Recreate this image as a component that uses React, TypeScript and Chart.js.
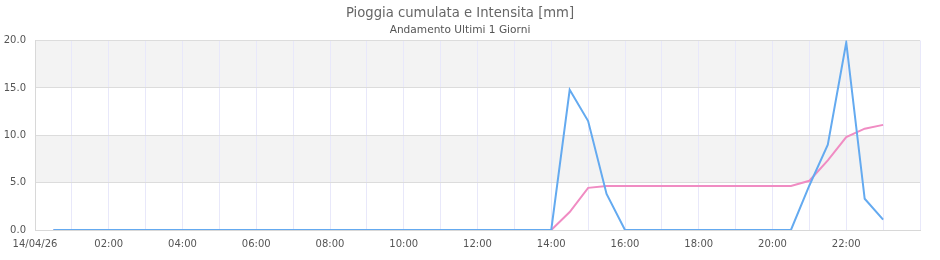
import React, { useEffect, useRef } from "react";
import { Chart, registerables } from "chart.js";

Chart.register(...registerables);

const TITLE = "Pioggia cumulata e Intensita [mm]";
const SUBTITLE = "Andamento Ultimi 1 Giorni";
const DATE_LABEL = "14/04/26";

// hours since 14/04/26 00:00
const hours = [
  0.5, 1, 1.5, 2, 2.5, 3, 3.5, 4, 4.5, 5, 5.5, 6, 6.5, 7, 7.5, 8, 8.5, 9, 9.5, 10,
  10.5, 11, 11.5, 12, 12.5, 13, 13.5, 14, 14.5, 15, 15.5, 16, 16.5, 17, 17.5, 18,
  18.5, 19, 19.5, 20, 20.5, 21, 21.5, 22, 22.5, 23,
];

const intensita = [
  0, 0, 0, 0, 0, 0, 0, 0, 0, 0, 0, 0, 0, 0, 0, 0, 0, 0, 0, 0,
  0, 0, 0, 0, 0, 0, 0, 0, 14.8, 11.5, 3.8, 0, 0, 0, 0, 0,
  0, 0, 0, 0, 0, 4.7, 9.0, 19.8, 3.3, 1.1,
];

const cumulata = [
  0, 0, 0, 0, 0, 0, 0, 0, 0, 0, 0, 0, 0, 0, 0, 0, 0, 0, 0, 0,
  0, 0, 0, 0, 0, 0, 0, 0, 1.9, 4.45, 4.65, 4.65, 4.65, 4.65, 4.65, 4.65,
  4.65, 4.65, 4.65, 4.65, 4.65, 5.2, 7.35, 9.8, 10.7, 11.1,
];

const yTicks = [0, 5, 10, 15, 20];

const bandsPlugin = {
  id: "bands",
  beforeDraw(chart: any) {
    const { ctx, chartArea, scales } = chart;
    const y = scales.y;
    ctx.save();
    ctx.fillStyle = "#f3f3f3";
    for (let i = 1; i < yTicks.length; i += 2) {
      const top = y.getPixelForValue(yTicks[i + 1] ?? yTicks[i]);
      const bot = y.getPixelForValue(yTicks[i]);
      ctx.fillRect(chartArea.left, top, chartArea.right - chartArea.left, bot - top);
    }
    ctx.restore();
  },
};

export default function App() {
  const ref = useRef<HTMLCanvasElement>(null);
  useEffect(() => {
    document.body.style.margin = "0";
    const chart = new Chart(ref.current!, {
      type: "line",
      data: {
        datasets: [
          {
            label: "Intensita",
            data: hours.map((h, i) => ({ x: h, y: intensita[i] })),
            borderColor: "rgb(100,170,240)",
            borderWidth: 2,
            pointRadius: 0,
            tension: 0,
            fill: false,
          },
          {
            label: "Cumulata",
            data: hours.map((h, i) => ({ x: h, y: cumulata[i] })),
            borderColor: "rgb(240,140,195)",
            borderWidth: 2,
            pointRadius: 0,
            tension: 0,
            fill: false,
          },
        ],
      },
      options: {
        animation: false,
        responsive: false,
        layout: { padding: { left: 0, right: 20, top: 0, bottom: 2 } },
        plugins: {
          legend: { display: false },
          tooltip: { enabled: false },
          title: {
            display: true,
            text: TITLE,
            color: "#666",
            font: { family: "DejaVu Sans", size: 13.2, weight: "normal" },
            padding: { top: 6, bottom: 2 },
          },
          subtitle: {
            display: true,
            text: SUBTITLE,
            color: "#555",
            font: { family: "DejaVu Sans", size: 10.6, weight: "normal" },
            padding: { top: 0, bottom: 4 },
          },
        },
        scales: {
          x: {
            type: "linear",
            min: 0,
            max: 24,
            afterFit: (s: any) => {
              s.paddingLeft = 0;
              s.paddingRight = 0;
            },
            ticks: {
              stepSize: 1,
              autoSkip: false,
              maxRotation: 0,
              color: "#555",
              font: { family: "DejaVu Sans", size: 10 },
              padding: 8,
              callback: (v: any) => {
                const n = Number(v);
                if (n === 0) return DATE_LABEL;
                if (n % 2 !== 0 || n >= 24) return "";
                return String(n).padStart(2, "0") + ":00";
              },
            },
            grid: { color: "rgb(232,232,250)", drawTicks: false },
            border: { color: "#d8d8d8" },
          },
          y: {
            min: 0,
            max: 20,
            afterFit: (s: any) => {
              s.width = 35;
            },
            ticks: {
              stepSize: 5,
              color: "#555",
              font: { family: "DejaVu Sans", size: 10 },
              padding: 9,
              callback: (v: any) => Number(v).toFixed(1),
            },
            grid: { color: "#dcdcdc", drawTicks: false },
            border: { color: "#d8d8d8" },
          },
        },
      },
      plugins: [bandsPlugin],
    } as any);
    return () => chart.destroy();
  }, []);
  return (
    <div style={{ width: 940, height: 260 }}>
      <canvas ref={ref} width={940} height={260} style={{ display: "block" }} />
    </div>
  );
}
